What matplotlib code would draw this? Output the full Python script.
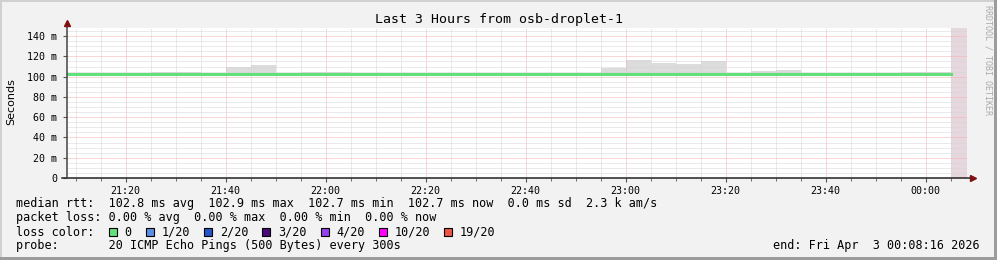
import numpy as np
import pandas as pd
import matplotlib
matplotlib.use('Agg')
import matplotlib.pyplot as plt
import matplotlib.dates as mdates
from matplotlib.ticker import MultipleLocator, FuncFormatter
from matplotlib.patches import Rectangle

# 5 minute steps, start of each step
step_start = pd.date_range('2026-04-02 21:05', periods=36, freq='5min')

# smoke top (max rtt) per step, ms
smoke_max = [103.3, 103.3, 103.3, 103.3, 104.8, 104.8, 103.3, 109.4, 111.7, 103.3,
             104.5, 104.5, 103.3, 103.3, 103.3, 103.3, 103.3, 103.3, 103.3, 103.3,
             103.3, 103.3, 108.8, 116.3, 113.3, 112.4, 115.4, 103.3, 105.5, 106.5,
             103.3, 103.3, 103.3, 103.3, 104.5, 104.5]
# smoke bottom (min rtt) per step, ms
smoke_min = [102.5] * 36
# median rtt per step, ms
median = [102.8] * 36

title = 'Last 3 Hours from osb-droplet-1'
t_start = pd.Timestamp('2026-04-02 21:08:16')
t_end = pd.Timestamp('2026-04-03 00:08:16')
data_end = pd.Timestamp('2026-04-03 00:05:00')

legend_lines = [
    'median rtt:  102.8 ms avg  102.9 ms max  102.7 ms min  102.7 ms now  0.0 ms sd  2.3 k am/s',
    'packet loss: 0.00 % avg  0.00 % max  0.00 % min  0.00 % now',
    'loss color:',
    'probe:       20 ICMP Echo Pings (500 Bytes) every 300s',
]
loss_labels = ['0', '1/20', '2/20', '3/20', '4/20', '10/20', '19/20']
loss_colors = ['#62e07c', '#5b8fe6', '#2456c8', '#4a0a7a', '#9440f0', '#ff00ff', '#ee5544']
end_text = 'end: Fri Apr  3 00:08:16 2026'

W, H = 997, 260
mono = 'DejaVu Sans Mono'
cw = 7.125  # char width in px for the legend font

fig = plt.figure(figsize=(W / 100, H / 100), dpi=100)
fig.patch.set_facecolor('#f2f2f2')

def fx(px):
    return px / W

def fy(py):
    return 1 - py / H

ax = fig.add_axes([fx(67), fy(178), 900 / W, 150 / H])
ax.set_facecolor('white')

# step edges
edges = list(step_start) + [data_end]
smax = smoke_max + [smoke_max[-1]]
smin = smoke_min + [smoke_min[-1]]
med = median + [median[-1]]

ax.axvspan(data_end, t_end, color='#e6d7de', lw=0, zorder=0.5)
ax.fill_between(edges, smin, smax, step='post', color='#dcdcdc', lw=0, zorder=1)
ax.step(edges, med, where='post', color=loss_colors[0], lw=2.2, zorder=3)

ax.set_xlim(t_start, t_end)
ax.set_ylim(0, 148)

ax.xaxis.set_major_locator(mdates.MinuteLocator(byminute=[0, 20, 40]))
ax.xaxis.set_minor_locator(mdates.MinuteLocator(byminute=range(0, 60, 5)))
ax.xaxis.set_major_formatter(mdates.DateFormatter('%H:%M'))
ax.yaxis.set_major_locator(MultipleLocator(20))
ax.yaxis.set_minor_locator(MultipleLocator(5))
ax.yaxis.set_major_formatter(FuncFormatter(lambda v, p: '0' if v == 0 else '%d m' % v))

ax.grid(which='minor', color='#d6d6d6', linestyle=(0, (1, 1)), lw=0.72, zorder=2)
ax.grid(which='major', color='#f5b0b0', linestyle=(0, (1, 1)), lw=0.72, zorder=2)
ax.set_axisbelow(False)

for s in ['top', 'right', 'left', 'bottom']:
    ax.spines[s].set_visible(False)

ax.tick_params(axis='both', which='both', labelsize=7.2, colors='#555555', labelcolor='black')
ax.tick_params(axis='x', which='major', length=3, pad=3)
ax.tick_params(axis='x', which='minor', length=2)
ax.tick_params(axis='y', which='major', length=3, pad=4)
ax.tick_params(axis='y', which='minor', length=0)
for lab in ax.get_xticklabels() + ax.get_yticklabels():
    lab.set_fontfamily(mono)

# axes with arrows
ax.plot([-5 / 900, 903 / 900], [0, 0], transform=ax.transAxes, color='#222222',
        lw=1.1, clip_on=False, zorder=4)
ax.plot([0, 0], [0, 154 / 150], transform=ax.transAxes, color='#444444',
        lw=1.1, clip_on=False, zorder=4)
ax.plot([906 / 900], [0], transform=ax.transAxes, marker='>', ms=5, color='#7f1010',
        clip_on=False, zorder=5, mec='#7f1010')
ax.plot([0], [155 / 150], transform=ax.transAxes, marker='^', ms=5, color='#7f1010',
        clip_on=False, zorder=5, mec='#7f1010')

# texts
fig.text(0.5, fy(19), title, family=mono, fontsize=9.5, ha='center', va='center')
fig.text(fx(11), fy(102), 'Seconds', fontsize=8, rotation=90, ha='center', va='center',
         family='DejaVu Sans')
fig.text(fx(988), fy(60), 'RRDTOOL / TOBI OETIKER', family=mono, fontsize=6,
         rotation=270, ha='center', va='center', color='#aaaaaa')

for i, line in enumerate(legend_lines):
    fig.text(fx(16), fy(204 + 14 * i), line, family=mono, fontsize=8.5, va='center')

# loss colour boxes, laid out like rrdtool: box, label, two spaces
bx = 109
for lab, col in zip(loss_labels, loss_colors):
    fig.add_artist(Rectangle((fx(bx), fy(236)), 8 / W, 8 / H, transform=fig.transFigure,
                             facecolor=col, edgecolor='black', lw=0.8))
    fig.text(fx(bx + 15.5), fy(232), lab, family=mono, fontsize=8.5, va='center')
    bx += 15.5 + (len(lab) + 2) * cw

fig.text(fx(980), fy(246), end_text, family=mono, fontsize=8.5, va='center', ha='right')

# frame
fig.add_artist(Rectangle((0, fy(2)), 1, 2 / H, transform=fig.transFigure,
                         facecolor='#d0d0d0', lw=0))
fig.add_artist(Rectangle((0, 0), 2 / W, 1, transform=fig.transFigure,
                         facecolor='#d0d0d0', lw=0))
fig.add_artist(Rectangle((0, 0), 1, 3 / H, transform=fig.transFigure,
                         facecolor='#9c9c9c', lw=0))
fig.add_artist(Rectangle((fx(994), 0), 3 / W, 1, transform=fig.transFigure,
                         facecolor='#9c9c9c', lw=0))

fig.savefig('out.png', dpi=100, facecolor=fig.get_facecolor())
